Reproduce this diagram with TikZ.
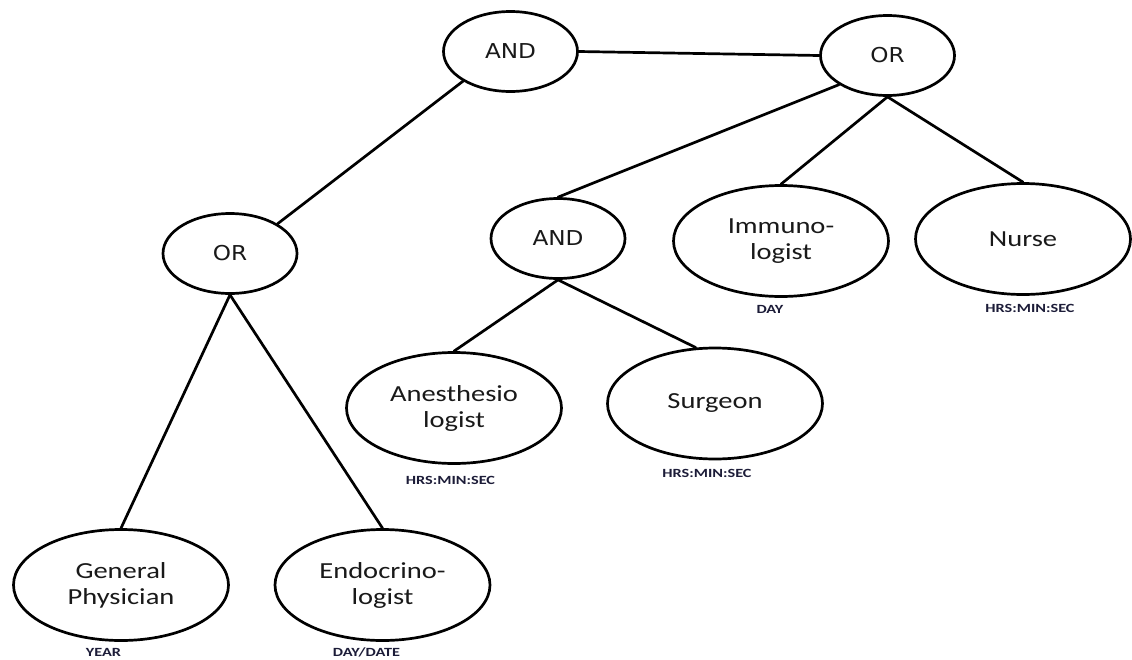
\documentclass[tikz,border=0pt]{standalone}
\usepackage{fontspec}
\usetikzlibrary{shapes.geometric}
\newfontfamily\gatefont{DejaVu Sans}[FakeStretch=1.13]
\newfontfamily\rolefont{Carlito}[FakeStretch=1.24]
\newfontfamily\tagfont{Carlito}[FakeStretch=1.3]
\definecolor{tagink}{RGB}{28,28,56}
\tikzset{
  gate/.style={ellipse, draw=black, line width=2.7pt, inner sep=0pt,
    minimum width=134pt, minimum height=80pt,
    font=\gatefont\fontsize{20.5}{22}\selectfont, text=black!90},
  role/.style={ellipse, draw=black, line width=2.7pt, inner sep=0pt,
    minimum width=215pt, minimum height=111pt, align=center,
    font=\rolefont\fontsize{23}{26}\selectfont, text=black!90},
  tag/.style={inner sep=0pt, text=tagink,
    font=\tagfont\bfseries\fontsize{12.5}{13}\selectfont},
  link/.style={line width=2.7pt, line cap=round}
}
\begin{document}
\begin{tikzpicture}[x=1pt,y=-1pt]
\useasboundingbox (0,0) rectangle (1132,659);

% logic gates
\node[gate] (andT) at (510.5,51.5) {AND};
\node[gate] (orT)  at (887.5,55.5) {OR};
\node[gate] (orL)  at (230,253.5)  {OR};
\node[gate] (andM) at (558,238.5)  {AND};

% specialists
\node[role] (immuno) at (781,241)   {Immuno-\\logist};
\node[role] (nurse)  at (1023,239)  {Nurse};
\node[role] (anest)  at (454,408)   {Anesthesio\\logist};
\node[role] (surg)   at (715,403.5) {Surgeon};
\node[role] (gp)     at (121,585)   {General\\Physician};
\node[role] (endo)   at (382.5,585) {Endocrino-\\logist};

% time granularity tags
\node[tag] (tImmuno) at (770,309)   {DAY};
\node[tag] (tNurse)  at (1030,308)  {HRS:MIN:SEC};
\node[tag] (tAnest)  at (450.5,480.5) {HRS:MIN:SEC};
\node[tag] (tSurg)   at (707,473)   {HRS:MIN:SEC};
\node[tag] (tGp)     at (103.5,652) {YEAR};
\node[tag] (tEndo)   at (366.5,652) {DAY/DATE};

% tree edges
\draw[link] (andT.east) -- (orT.west);
\draw[link] (andT.212) -- (orL.32);
\draw[link] (orL.south) -- (gp.north);
\draw[link] (orL.south) -- (endo.north);
\draw[link] (orT.211) -- (andM.north);
\draw[link] (orT.south) -- (immuno.north);
\draw[link] (orT.south) -- (nurse.north);
\draw[link] (andM.south) -- (anest.north);
\draw[link] (andM.south) -- (surg.109);
\end{tikzpicture}
\end{document}
